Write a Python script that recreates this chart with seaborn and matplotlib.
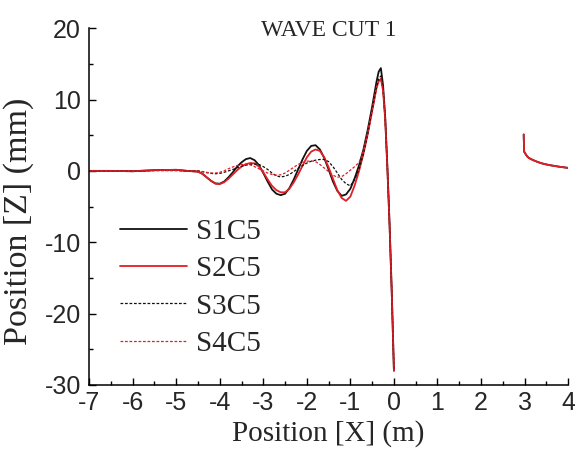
import numpy as np
import pandas as pd
import matplotlib.pyplot as plt
import seaborn as sns
from matplotlib.ticker import MultipleLocator

# x positions (m) of the wave cut, left of the hull and behind it
x_left = [-7.0, -6.5, -6.0, -5.5, -5.0, -4.75,
          -4.5, -4.4, -4.3, -4.2, -4.1, -4.0,
          -3.9, -3.8, -3.7, -3.6, -3.5, -3.4, -3.3, -3.2, -3.1, -3.0,
          -2.9, -2.8, -2.7, -2.6, -2.5, -2.4, -2.3, -2.2, -2.1, -2.0,
          -1.9, -1.8, -1.7, -1.6, -1.5, -1.4, -1.3, -1.2, -1.1, -1.0,
          -0.9, -0.8, -0.7, -0.6, -0.5, -0.4,
          -0.35, -0.3, -0.25, -0.2, -0.15, -0.1, -0.05, 0.0]

s1c5 = [0.0, 0.0, -0.05, 0.1, 0.15, 0.0,
        -0.1, -0.4, -0.9, -1.4, -1.75, -1.8,
        -1.5, -0.9, -0.2, 0.6, 1.2, 1.65, 1.8, 1.5, 0.8, -0.3,
        -1.5, -2.6, -3.2, -3.4, -3.2, -2.4, -1.2, 0.2, 1.6, 2.8,
        3.5, 3.6, 3.0, 1.8, 0.2, -1.5, -2.8, -3.5, -3.3, -2.5,
        -1.0, 0.8, 3.0, 5.8, 9.0, 12.5,
        13.9, 14.4, 12.0, 7.5, 0.5, -7.5, -17.0, -28.0]

s2c5 = [0.0, 0.0, -0.05, 0.1, 0.15, 0.0,
        -0.1, -0.4, -0.9, -1.4, -1.8, -1.85,
        -1.6, -1.1, -0.5, 0.1, 0.6, 0.95, 1.1, 1.05, 0.6, -0.2,
        -1.2, -2.1, -2.7, -3.0, -3.0, -2.5, -1.6, -0.5, 0.7, 1.9,
        2.7, 3.0, 2.8, 1.9, 0.5, -1.1, -2.7, -3.8, -4.2, -3.6,
        -2.0, 0.0, 2.4, 5.2, 8.4, 11.6,
        12.6, 12.9, 11.3, 7.2, 0.3, -7.6, -17.0, -28.0]

s3c5 = [0.0, 0.0, 0.0, 0.05, 0.05, 0.0,
        0.0, -0.1, -0.25, -0.35, -0.4, -0.35,
        -0.2, 0.0, 0.2, 0.45, 0.65, 0.8, 0.9, 0.95, 0.9, 0.6,
        0.2, -0.3, -0.7, -0.85, -0.75, -0.5, -0.1, 0.35, 0.75, 1.1,
        1.35, 1.5, 1.6, 1.6, 1.3, 0.6, -0.3, -1.2, -1.8, -2.1,
        -1.2, 0.3, 2.4, 5.2, 8.5, 11.7,
        12.9, 13.3, 11.5, 7.3, 0.4, -7.5, -17.0, -28.0]

s4c5 = [0.0, 0.0, 0.0, 0.05, 0.05, 0.0,
        0.0, -0.1, -0.2, -0.3, -0.3, -0.2,
        0.0, 0.3, 0.55, 0.75, 0.9, 0.95, 0.85, 0.6, 0.3, 0.0,
        -0.3, -0.5, -0.6, -0.55, -0.3, 0.1, 0.5, 0.9, 1.2, 1.35,
        1.4, 1.3, 0.9, 0.4, -0.1, -0.6, -0.9, -0.8, -0.4, 0.1,
        0.6, 1.2, 2.8, 5.3, 8.4, 11.5,
        12.5, 12.8, 11.2, 7.0, 0.3, -7.6, -17.0, -28.0]

# short piece behind the transom
x_right = [2.98, 2.99, 3.05, 3.1, 3.2, 3.3, 3.4, 3.5, 3.6, 3.7, 3.8, 3.9, 4.0]
z_right = [5.1, 2.7, 2.1, 1.8, 1.5, 1.25, 1.05, 0.9, 0.78, 0.68, 0.58, 0.5, 0.42]

labels = ["S1C5", "S2C5", "S3C5", "S4C5"]
x_ticks = [-7, -6, -5, -4, -3, -2, -1, 0, 1, 2, 3, 4]
y_ticks = [-30, -20, -10, 0, 10, 20]

sns.set_style("ticks")
plt.rcParams['font.family'] = ['Liberation Sans', 'DejaVu Sans']
plt.rcParams['axes.unicode_minus'] = False
plt.rcParams['xtick.direction'] = 'in'
plt.rcParams['ytick.direction'] = 'in'

BLACK = "#111111"
RED = "#e41e26"
styles = {
    "S1C5": dict(color=BLACK, linestyle="-", linewidth=1.3),
    "S2C5": dict(color=RED, linestyle="-", linewidth=1.3),
    "S3C5": dict(color=BLACK, linestyle=(0, (2.2, 1.4)), linewidth=0.9),
    "S4C5": dict(color=RED, linestyle=(0, (2.2, 1.4)), linewidth=0.9),
}

fig = plt.figure(figsize=(5.75, 4.54), dpi=100)
ax = fig.add_axes([0.155, 0.152, 0.833, 0.786])

series = {"S1C5": s1c5, "S2C5": s2c5, "S3C5": s3c5, "S4C5": s4c5}
for name in labels:
    df = pd.DataFrame({"x": x_left, "z": series[name]})
    sns.lineplot(data=df, x="x", y="z", ax=ax, estimator=None, label=name,
                 **styles[name])

# right segment (S1/S2 overlap there)
for name in ["S1C5", "S2C5"]:
    df = pd.DataFrame({"x": x_right, "z": z_right})
    sns.lineplot(data=df, x="x", y="z", ax=ax, estimator=None, legend=False,
                 **styles[name])

ax.set_xlim(-7, 4)
ax.set_ylim(-30, 20)
ax.set_xticks(x_ticks)
ax.set_yticks(y_ticks)
ax.xaxis.set_minor_locator(MultipleLocator(0.5))
ax.yaxis.set_minor_locator(MultipleLocator(5))
ax.tick_params(which='major', length=5, width=1, labelsize=18, color='black')
ax.tick_params(which='minor', length=3, width=1, color='black')
ax.tick_params(axis='x', pad=4.5)
ax.tick_params(axis='y', pad=6)
for side in ['left', 'bottom']:
    ax.spines[side].set_linewidth(1.1)
    ax.spines[side].set_color('black')
sns.despine(ax=ax)

serif = ['Liberation Serif', 'DejaVu Serif']
ax.set_xlabel("Position [X] (m)", fontsize=21, family=serif)
ax.xaxis.set_label_coords(0.5, -0.098)
ax.set_ylabel("Position [Z] (mm)", fontsize=24.5, family=serif)
ax.yaxis.set_label_coords(-0.115, 0.46)
ax.text(0.5, 0.994, "WAVE CUT 1", transform=ax.transAxes, ha='center',
        va='center', fontsize=17, family=serif)

ax.legend(loc='upper left', bbox_to_anchor=(0.065, 0.466), frameon=False,
          prop={'family': serif, 'size': 21}, handlelength=2.3,
          handletextpad=0.3, labelspacing=0.37, borderpad=0, borderaxespad=0)

fig.savefig("out.png", dpi=100)
